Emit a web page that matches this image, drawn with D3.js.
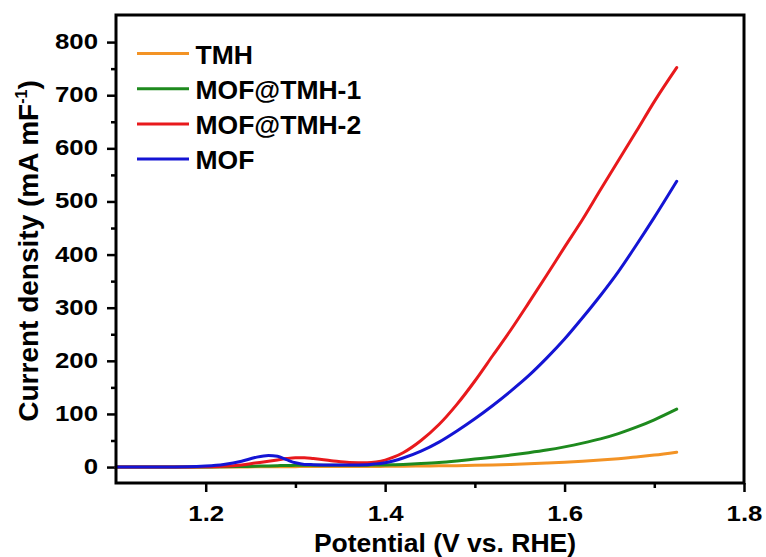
<!DOCTYPE html>
<html>
<head>
<meta charset="utf-8">
<script src="https://cdn.jsdelivr.net/npm/d3@7"></script>
<style>
  html, body { margin: 0; padding: 0; background: #fff; }
  svg { display: block; font-family: "Liberation Sans", Arial, sans-serif; font-weight: bold; }
</style>
</head>
<body>
<svg id="chart" width="766" height="557"></svg>
<script>
// Potential grid (V vs. RHE) shared by all LSV curves
const potential = [1.10, 1.15, 1.18, 1.20, 1.22, 1.24, 1.255, 1.27, 1.28, 1.29, 1.30, 1.31, 1.32, 1.34, 1.36, 1.38, 1.39, 1.40, 1.41, 1.42, 1.44, 1.46, 1.48, 1.50, 1.52, 1.54, 1.56, 1.58, 1.60, 1.62, 1.64, 1.66, 1.68, 1.70, 1.725];

// Normalised current density (mA mF^-1)
const tmh = [0, 0, 0, 0.1, 0.2, 0.3, 0.4, 0.5, 0.6, 0.7, 0.8, 0.85, 0.9, 1.0, 1.0, 1.1, 1.2, 1.3, 1.5, 1.7, 2.0, 2.3, 2.6, 3.2, 4.0, 5.0, 6.2, 7.6, 9.2, 11.0, 13.2, 15.8, 18.8, 22.5, 28];
const mofTmh1 = [0, 0, 0, 0.2, 0.5, 1.0, 1.5, 2.2, 2.7, 3.0, 3.2, 3.3, 3.3, 3.3, 3.4, 3.6, 3.8, 4.0, 4.4, 5.0, 6.5, 8.5, 11.5, 15, 18.5, 22.5, 27, 32, 38, 45, 53, 63, 75, 89, 109];
const mofTmh2 = [0, 0, 0.2, 0.5, 1.5, 4, 7.5, 11, 13.5, 16, 17.5, 17.5, 16, 12, 8.5, 8, 9.5, 13, 19, 27, 50, 80, 118, 162, 210, 258, 309, 361, 414, 466, 522, 577, 632, 688, 752];
const mof = [0, 0, 0.5, 2, 5, 11, 18, 22, 20.5, 14, 8, 5, 4.5, 4, 4, 4.5, 6, 8, 12, 17, 30, 47, 68, 91, 116, 143, 172, 205, 241, 281, 323, 368, 418, 470, 538];

const seriesNames = ["TMH", "MOF@TMH-1", "MOF@TMH-2", "MOF"];
const seriesValues = [tmh, mofTmh1, mofTmh2, mof];
const seriesColors = ["#F39325", "#1E8A1E", "#E8191C", "#1414D4"];

const yMajorTicks = [0, 100, 200, 300, 400, 500, 600, 700, 800];
const yMinorTicks = [50, 150, 250, 350, 450, 550, 650, 750];
const xMajorTicks = [1.2, 1.4, 1.6, 1.8];
const xMinorTicks = [1.3, 1.5, 1.7];

const svg = d3.select("#chart");
const plotLeft = 116, plotRight = 744, plotTop = 15, plotBottom = 483;

const x = d3.scaleLinear().domain([1.1, 1.8]).range([plotLeft, plotRight]);
const y = d3.scaleLinear().domain([-30, 851]).range([plotBottom, plotTop]);

const tickStretch = 1.2;

// Y axis: major ticks with labels, minor ticks without
const yAxis = svg.append("g").attr("transform", `translate(${plotLeft},0)`)
  .call(d3.axisLeft(y).tickValues(yMajorTicks).tickSize(9).tickPadding(0).tickFormat(d3.format("d")));
yAxis.select(".domain").remove();
yAxis.selectAll(".tick line").attr("stroke", "#000").attr("stroke-width", 2.5);
yAxis.selectAll(".tick text")
  .attr("x", -18 / tickStretch).attr("dy", "0.3em")
  .attr("transform", `scale(${tickStretch},1)`)
  .attr("font-size", 21.5).attr("font-weight", "bold").attr("fill", "#000")
  .attr("font-family", "Liberation Sans, Arial, sans-serif");

const yMinor = svg.append("g").attr("transform", `translate(${plotLeft},0)`)
  .call(d3.axisLeft(y).tickValues(yMinorTicks).tickSize(5).tickFormat(""));
yMinor.select(".domain").remove();
yMinor.selectAll(".tick line").attr("stroke", "#000").attr("stroke-width", 2.5);

// X axis
const xAxis = svg.append("g").attr("transform", `translate(0,${plotBottom})`)
  .call(d3.axisBottom(x).tickValues(xMajorTicks).tickSize(9).tickPadding(0).tickFormat(d3.format(".1f")));
xAxis.select(".domain").remove();
xAxis.selectAll(".tick line").attr("stroke", "#000").attr("stroke-width", 2.5);
xAxis.selectAll(".tick text")
  .attr("y", 38).attr("dy", 0)
  .attr("transform", `scale(${tickStretch},1)`)
  .attr("font-size", 21.5).attr("font-weight", "bold").attr("fill", "#000")
  .attr("font-family", "Liberation Sans, Arial, sans-serif");

const xMinor = svg.append("g").attr("transform", `translate(0,${plotBottom})`)
  .call(d3.axisBottom(x).tickValues(xMinorTicks).tickSize(5).tickFormat(""));
xMinor.select(".domain").remove();
xMinor.selectAll(".tick line").attr("stroke", "#000").attr("stroke-width", 2.5);

// Curves
const line = d3.line()
  .x(d => x(d[0]))
  .y(d => y(d[1]))
  .curve(d3.curveMonotoneX);

const plot = svg.append("g");
seriesValues.forEach((vals, i) => {
  const pts = potential.map((p, j) => [p, vals[j]]);
  plot.append("path")
    .attr("d", line(pts))
    .attr("fill", "none")
    .attr("stroke", seriesColors[i])
    .attr("stroke-width", 3)
    .attr("stroke-linejoin", "round")
    .attr("stroke-linecap", "round");
});

// Frame
svg.append("rect")
  .attr("x", plotLeft).attr("y", plotTop)
  .attr("width", plotRight - plotLeft).attr("height", plotBottom - plotTop)
  .attr("fill", "none").attr("stroke", "#000").attr("stroke-width", 3);

// Legend
const legend = svg.append("g");
seriesNames.forEach((name, i) => {
  const cy = 53.5 + i * 35.2;
  legend.append("line")
    .attr("x1", 137).attr("x2", 189)
    .attr("y1", cy).attr("y2", cy)
    .attr("stroke", seriesColors[i]).attr("stroke-width", 3);
  legend.append("text")
    .attr("x", 195.5).attr("y", cy + 10)
    .attr("font-size", 26.5).attr("fill", "#000")
    .text(name);
});

// Axis titles
svg.append("text")
  .attr("x", 445).attr("y", 551.5)
  .attr("text-anchor", "middle")
  .attr("font-size", 26.5).attr("fill", "#000")
  .text("Potential (V vs. RHE)");

const yTitle = svg.append("text")
  .attr("transform", "translate(38,251) rotate(-90)")
  .attr("text-anchor", "middle")
  .attr("font-size", 28).attr("fill", "#000");
yTitle.append("tspan").text("Current density (mA mF");
yTitle.append("tspan").attr("font-size", 16).attr("dy", -11).text("-1");
yTitle.append("tspan").attr("dy", 11).text(")");
</script>
</body>
</html>
